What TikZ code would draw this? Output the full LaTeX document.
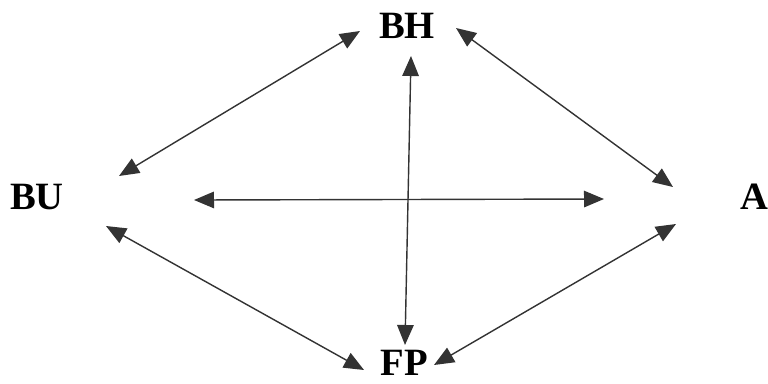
\documentclass[tikz,border=0pt]{standalone}
\usepackage{fontspec}
\setmainfont{Liberation Serif}
\usetikzlibrary{arrows.meta}
\definecolor{relline}{HTML}{333333}

\begin{document}
\begin{tikzpicture}[
    x=0.02cm, y=-0.02cm,
    every node/.style={align=center, font=\fontsize{22}{25}\selectfont\bfseries, inner sep=0pt},
    rel-arrow/.style={{Triangle[length=4mm, width=3.3mm]}-{Triangle[length=4mm, width=3.3mm]},
        draw=relline, line width=0.8pt},
]
    \useasboundingbox (0,0) rectangle (768,383);

    % ---- NODES: the four parties ----
    \node (bh) at (407,26)  {BH};
    \node (bu) at (37,197)  {BU};
    \node (a)  at (754,197) {A};
    \node (fp) at (404,363) {FP};

    % ---- arrow ends ----
    \coordinate (bu-bh1) at (119,176);
    \coordinate (bu-bh2) at (360,31);
    \coordinate (bh-a1)  at (456,28);
    \coordinate (bh-a2)  at (673,187);
    \coordinate (bu-a1)  at (194,200);
    \coordinate (bu-a2)  at (604,199);
    \coordinate (bh-fp1) at (411,56);
    \coordinate (bh-fp2) at (405,345);
    \coordinate (bu-fp1) at (106,226);
    \coordinate (bu-fp2) at (364,370);
    \coordinate (a-fp1)  at (676,224);
    \coordinate (a-fp2)  at (434,365);

    % ---- ARROWS ----
    \draw[rel-arrow] (bu-bh1) -- (bu-bh2);
    \draw[rel-arrow] (bh-a1)  -- (bh-a2);
    \draw[rel-arrow] (bu-a1)  -- (bu-a2);
    \draw[rel-arrow] (bh-fp1) -- (bh-fp2);
    \draw[rel-arrow] (bu-fp1) -- (bu-fp2);
    \draw[rel-arrow] (a-fp1)  -- (a-fp2);

\end{tikzpicture}
\end{document}
